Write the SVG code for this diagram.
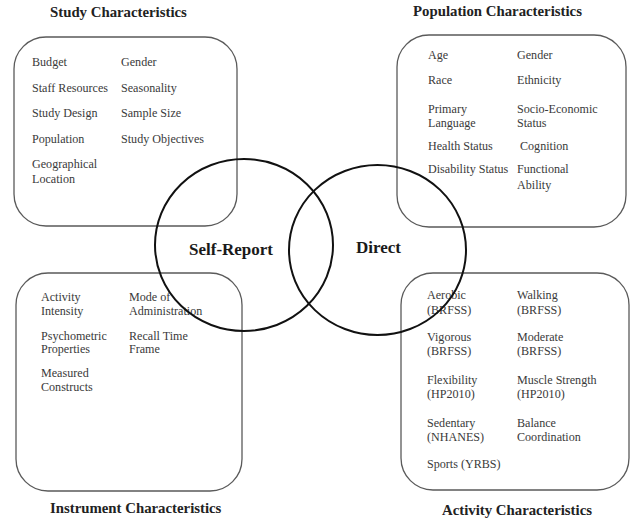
<svg xmlns="http://www.w3.org/2000/svg" width="639" height="523" viewBox="0 0 639 523">
<style>
.box{fill:none;stroke:#5a5a5a;stroke-width:1.3}
.circ{fill:none;stroke:#111;stroke-width:2}
.title{font-family:"Liberation Serif","Times New Roman",serif;font-weight:bold;font-size:14.8px;fill:#222}
.big{font-family:"Liberation Serif","Times New Roman",serif;font-weight:bold;font-size:17px;fill:#1a1a1a}
.item{font-family:"Liberation Serif","Times New Roman",serif;font-size:12.1px;fill:#3a3a3a}
</style>
<rect width="639" height="523" fill="#fff"/>
<g id="study">
<rect class="box" x="14" y="37" width="223" height="189" rx="32"/>
<text class="title" x="50" y="17">Study Characteristics</text>
<g class="item">
<text x="32" y="66">Budget</text><text x="121" y="66">Gender</text>
<text x="32" y="92">Staff Resources</text><text x="121" y="92">Seasonality</text>
<text x="32" y="117">Study Design</text><text x="121" y="117">Sample Size</text>
<text x="32" y="143">Population</text><text x="121" y="143">Study Objectives</text>
<text x="32" y="168">Geographical</text><text x="32" y="183">Location</text>
</g>
</g>
<g id="population">
<rect class="box" x="397" y="35" width="229" height="192" rx="32"/>
<text class="title" x="413" y="16">Population Characteristics</text>
<g class="item">
<text x="428" y="59">Age</text><text x="517" y="59">Gender</text>
<text x="428" y="84">Race</text><text x="517" y="84">Ethnicity</text>
<text x="428" y="113">Primary</text><text x="428" y="127">Language</text>
<text x="517" y="113">Socio-Economic</text><text x="517" y="127">Status</text>
<text x="428" y="150">Health Status</text><text x="520" y="150">Cognition</text>
<text x="428" y="173">Disability Status</text><text x="517" y="173">Functional</text><text x="517" y="189">Ability</text>
</g>
</g>
<g id="instrument">
<rect class="box" x="16" y="273" width="226" height="218" rx="32"/>
<text class="title" x="50" y="513">Instrument Characteristics</text>
<g class="item">
<text x="41" y="301">Activity</text><text x="41" y="315">Intensity</text>
<text x="129" y="301">Mode of</text><text x="129" y="315">Administration</text>
<text x="41" y="340">Psychometric</text><text x="41" y="353">Properties</text>
<text x="129" y="340">Recall Time</text><text x="129" y="353">Frame</text>
<text x="41" y="377">Measured</text><text x="41" y="391">Constructs</text>
</g>
</g>
<g id="activity">
<rect class="box" x="401" y="273" width="228" height="217" rx="32"/>
<text class="title" x="442" y="515">Activity Characteristics</text>
<g class="item">
<text x="427" y="299">Aerobic</text><text x="427" y="314">(BRFSS)</text>
<text x="517" y="299">Walking</text><text x="517" y="314">(BRFSS)</text>
<text x="427" y="341">Vigorous</text><text x="427" y="355">(BRFSS)</text>
<text x="517" y="341">Moderate</text><text x="517" y="355">(BRFSS)</text>
<text x="427" y="384">Flexibility</text><text x="427" y="398">(HP2010)</text>
<text x="517" y="384">Muscle Strength</text><text x="517" y="398">(HP2010)</text>
<text x="427" y="427">Sedentary</text><text x="427" y="441">(NHANES)</text>
<text x="517" y="427">Balance</text><text x="517" y="441">Coordination</text>
<text x="427" y="468">Sports (YRBS)</text>
</g>
</g>
<g id="self-report">
<ellipse class="circ" cx="244" cy="245" rx="89" ry="86"/>
<text class="big" x="189" y="255">Self-Report</text>
</g>
<g id="direct">
<ellipse class="circ" cx="377.5" cy="250" rx="88.5" ry="85"/>
<text class="big" x="356" y="253">Direct</text>
</g>
<g id="connectors"/>
</svg>
